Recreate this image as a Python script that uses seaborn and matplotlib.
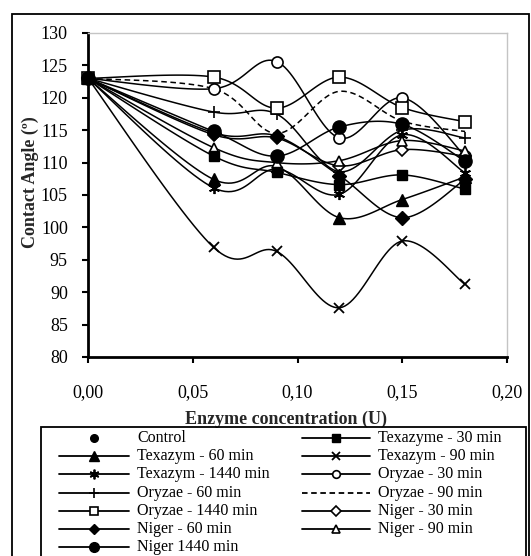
import numpy as np
import matplotlib
matplotlib.use("Agg")
import matplotlib.pyplot as plt
import seaborn as sns
from matplotlib.lines import Line2D
from matplotlib.patches import Rectangle

# ---------------- data ----------------
conc = [0.0, 0.06, 0.09, 0.12, 0.15, 0.18]
control_x = [0.0]
control = [123.0]
texazyme_30 = [123.0, 111.0, 108.5, 106.6, 108.1, 105.9]
texazym_60 = [123.0, 107.4, 109.4, 101.5, 104.3, 107.8]
texazym_90 = [123.0, 96.9, 96.3, 87.6, 97.9, 91.2]
texazym_1440 = [123.0, 106.1, 109.0, 105.1, 114.3, 108.4]
oryzae_30 = [123.0, 121.4, 125.6, 113.8, 120.0, 111.0]
oryzae_60 = [123.0, 117.8, 117.5, 108.6, 115.0, 113.8]
oryzae_90 = [123.0, 121.4, 114.5, 121.0, 116.4, 114.8]
oryzae_1440 = [123.0, 123.2, 118.4, 123.2, 118.5, 116.3]
niger_30 = [123.0, 114.3, 113.8, 109.5, 112.0, 111.0]
niger_60 = [123.0, 114.6, 114.1, 108.0, 101.5, 107.4]
niger_90 = [123.0, 112.3, 110.0, 110.3, 113.4, 111.8]
niger_1440 = [123.0, 114.8, 111.0, 115.5, 115.9, 110.2]

x_ticks = [0.00, 0.05, 0.10, 0.15, 0.20]
x_tick_labels = ["0,00", "0,05", "0,10", "0,15", "0,20"]
y_ticks = [80, 85, 90, 95, 100, 105, 110, 115, 120, 125, 130]

sns.set_style("white")
plt.rcParams["font.family"] = ["Liberation Serif", "DejaVu Serif"]
plt.rcParams["lines.scale_dashes"] = False

W, H = 531, 556
fig = plt.figure(figsize=(W / 100, H / 100), dpi=100)
fig.patch.set_facecolor("white")


def fx(px):
    return px / W


def fy(py):
    return 1 - py / H


ax = fig.add_axes([fx(88), fy(357), fx(507) - fx(88), fy(33) - fy(357)])
ax.set_facecolor("white")


def smooth(xs, ys, n=24):
    """Excel-style smoothed line (cubic Bezier through the points)."""
    P = np.column_stack([xs, ys]).astype(float)
    out = [P[0]]
    t = np.linspace(0, 1, n)[1:, None]
    for i in range(len(P) - 1):
        p0 = P[i - 1] if i > 0 else P[i]
        p1, p2 = P[i], P[i + 1]
        p3 = P[i + 2] if i + 2 < len(P) else P[i + 1]
        c1 = p1 + (p2 - p0) / 6
        c2 = p2 - (p3 - p1) / 6
        seg = (1 - t) ** 3 * p1 + 3 * (1 - t) ** 2 * t * c1 + 3 * (1 - t) * t ** 2 * c2 + t ** 3 * p2
        out.extend(seg)
    out = np.array(out)
    return out[:, 0], out[:, 1]


# label, values, marker, size, face, edge width, linestyle, legend marker size
series = [
    ("Texazyme - 30 min", texazyme_30, "s", 7.5, "black", 1.0, "-", 6),
    ("Texazym - 60 min", texazym_60, "^", 8, "black", 1.0, "-", 6.5),
    ("Texazym - 90 min", texazym_90, "x", 7.5, "black", 1.3, "-", 6),
    ("Texazym - 1440 min", texazym_1440, (6, 2, 0), 8, "black", 1.3, "-", 7),
    ("Oryzae - 30 min", oryzae_30, "o", 8, "white", 1.2, "-", 5.5),
    ("Oryzae - 60 min", oryzae_60, "+", 9, "black", 1.2, "-", 7),
    ("Oryzae - 90 min", oryzae_90, None, 0, "black", 1.0, "--", 0),
    ("Oryzae - 1440 min", oryzae_1440, "s", 8, "white", 1.2, "-", 6),
    ("Niger - 30 min", niger_30, "D", 6.5, "white", 1.2, "-", 5),
    ("Niger - 60 min", niger_60, "D", 7, "black", 1.0, "-", 5.5),
    ("Niger - 90 min", niger_90, "^", 7.5, "white", 1.2, "-", 6),
    ("Niger 1440 min", niger_1440, "o", 9.5, "black", 1.0, "-", 7),
]

for lab, vals, mk, ms, fc, mew, ls, _ in series:
    sx, sy = smooth(conc, vals)
    sns.lineplot(x=sx, y=sy, ax=ax, sort=False, estimator=None, color="black",
                 lw=1.1, zorder=2)
    line = ax.lines[-1]
    if ls == "--":
        line.set_dashes([4, 2.6])
    line.set_clip_on(False)

# markers: filled square series drawn last so it sits on top at the common start point
marker_order = series[1:] + series[:1]
for lab, vals, mk, ms, fc, mew, ls, _ in marker_order:
    if mk is None:
        continue
    sns.lineplot(x=conc, y=vals, ax=ax, sort=False, estimator=None,
                 linestyle="none", marker=mk, markersize=ms,
                 markerfacecolor=fc, markeredgecolor="black",
                 markeredgewidth=mew, color="black", zorder=3, clip_on=False)

sns.lineplot(x=control_x, y=control, ax=ax, linestyle="none", marker="o",
             markersize=5, color="black", markeredgecolor="black", zorder=4,
             clip_on=False, estimator=None)

ax.set_xlim(0, 0.20)
ax.set_ylim(80, 130)
ax.set_xticks(x_ticks)
ax.set_xticklabels(x_tick_labels)
ax.set_yticks(y_ticks)
ax.set_yticklabels([str(v) for v in y_ticks])
ax.tick_params(axis="x", direction="out", length=4.5, width=1.5, pad=15,
               labelsize=13, colors="black", bottom=True)
ax.tick_params(axis="y", direction="out", length=4.5, width=1.5, pad=10,
               labelsize=13, colors="black", left=True)
for s in ["left", "bottom"]:
    ax.spines[s].set_color("black")
    ax.spines[s].set_linewidth(2.0)
for s in ["top", "right"]:
    ax.spines[s].set_color("#c4c4c4")
    ax.spines[s].set_linewidth(1.0)
ax.grid(False)

ax.set_xlabel("Enzyme concentration (U)", fontsize=13, fontweight="bold")
ax.set_ylabel("Contact Angle (º)", fontsize=13, fontweight="bold")
ax.xaxis.set_label_coords((286 - 88) / 419, (357 - 419) / 324)
ax.xaxis.label.set_va("center")
ax.yaxis.set_label_coords((30 - 88) / 419, 1 - (182 - 33) / 324)
ax.yaxis.label.set_va("center")

# outer frame
fig.add_artist(Rectangle((fx(11.5), fy(600)), fx(529) - fx(11.5), fy(13.5) - fy(600),
                         transform=fig.transFigure, fill=False, ec="black", lw=1.3))

# legend (manual, row-major as in the reference)
fig.add_artist(Rectangle((fx(41), fy(600)), fx(526) - fx(41), fy(427) - fy(600),
                         transform=fig.transFigure, fill=False, ec="black", lw=1.3))

entries = [("Control", None)] + [(s[0], s) for s in series]
row_y0, row_dy = 438.0, 18.2
cols = [(59, 129, 94, 137), (302, 370, 336, 378)]
for k, (lab, s) in enumerate(entries):
    r, c = divmod(k, 2)
    x0, x1, xm, xt = cols[c]
    y = fy(row_y0 + r * row_dy)
    if s is None:
        fig.add_artist(Line2D([fx(xm)], [y], transform=fig.transFigure, marker="o",
                              markersize=5.5, color="black", linestyle="none"))
    else:
        _, _, mk, ms, fc, mew, ls, lms = s
        ln = Line2D([fx(x0), fx(x1)], [y, y], transform=fig.transFigure,
                    color="black", lw=1.3)
        if ls == "--":
            ln.set_dashes([4, 2.6])
        fig.add_artist(ln)
        if mk is not None:
            fig.add_artist(Line2D([fx(xm)], [y], transform=fig.transFigure, marker=mk,
                                  markersize=lms, markerfacecolor=fc,
                                  markeredgecolor="black", markeredgewidth=min(mew, 1.3),
                                  linestyle="none"))
    fig.text(fx(xt), y, lab, ha="left", va="center", fontsize=11.5, color="black")

fig.savefig("out.png", dpi=100, facecolor="white")
